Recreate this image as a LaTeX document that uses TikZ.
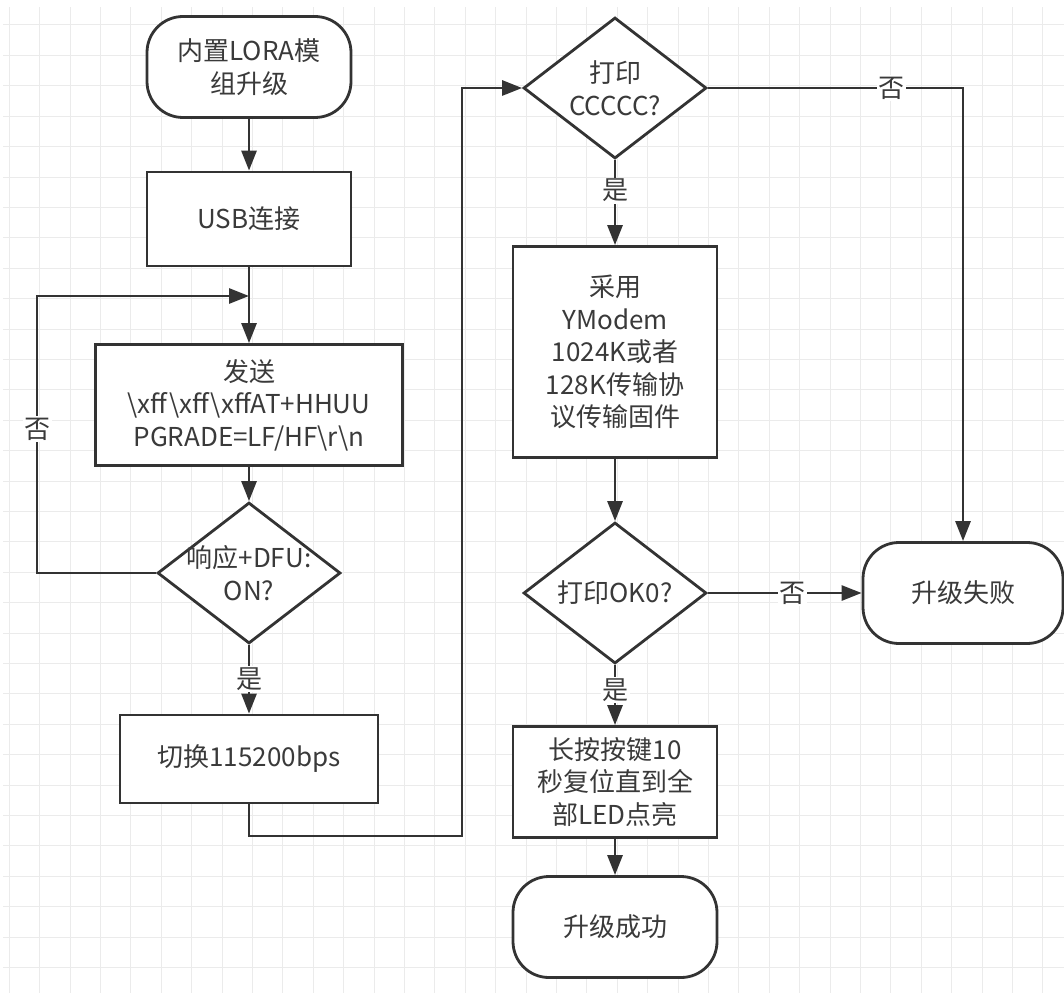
\documentclass[tikz,border=0pt]{standalone}
\usepackage{fontspec}
\setmainfont{Noto Sans CJK SC}
\usetikzlibrary{shapes.geometric,arrows.meta}
\definecolor{linegray}{HTML}{333333}
\definecolor{txtgray}{HTML}{3A3A3A}
\definecolor{gridgray}{HTML}{EBEBEB}
\tikzset{
	every node/.style={font=\fontsize{26}{32.5}\selectfont, text=txtgray},
	terminal/.style={draw=linegray, line width=2.8pt, fill=white, rounded corners=36pt,
		minimum width=204pt, minimum height=101pt, align=center},
	process/.style={draw=linegray, line width=2.8pt, fill=white, inner sep=0pt, align=center},
	decision/.style={draw=linegray, line width=2.8pt, fill=white, diamond, inner sep=0pt,
		minimum width=183pt, minimum height=141pt},
	flow/.style={draw=linegray, line width=2.8pt, -{Triangle[length=20pt,width=15pt]}},
	yesno/.style={fill=white, inner sep=1.5pt},
	gridln/.style={draw=gridgray, line width=1pt}
}
\begin{document}
\begin{tikzpicture}[x=1pt, y=-1pt]
	\useasboundingbox (0,0) rectangle (1064,995);
	% background grid
	\foreach \i in {0,...,34}
		\draw[gridln] ({9.3+30.4*\i},7) -- ({9.3+30.4*\i},993);
	\foreach \j in {0,...,31}
		\draw[gridln] (3,{25+30.4*\j}) -- (1064,{25+30.4*\j});

	% left column
	\node[terminal] (start) at (249,67) {内置LORA模\\组升级};
	\node[process, minimum width=204pt, minimum height=94pt] (usb) at (249,219) {USB连接};
	\node[process, minimum width=307pt, minimum height=121pt] (send) at (249,405)
		{发送\\\textbackslash xff\textbackslash xff\textbackslash xffAT+HHUU\\PGRADE=LF/HF\textbackslash r\textbackslash n};
	\node[decision] (chk) at (249,573) {};
	\node[align=center] (chktxt) at (chk.center) {响应+DFU:\\ON?};
	\node[process, minimum width=258pt, minimum height=88pt] (baud) at (249,759) {切换115200bps};

	% right column
	\node[decision] (cc) at (615,88) {};
	\node[align=center] (cctxt) at (cc.center) {打印\\CCCCC?};
	\node[process, minimum width=204pt, minimum height=211pt] (ymodem) at (615,352)
		{采用\\YModem\\1024K或者\\128K传输协\\议传输固件};
	\node[decision] (ok) at (615,593) {};
	\node (oktxt) at (ok.center) {打印OK0?};
	\node[process, minimum width=204pt, minimum height=111pt] (reset) at (615,782)
		{长按按键10\\秒复位直到全\\部LED点亮};
	\node[terminal] (done) at (615,927) {升级成功};
	\node[terminal, minimum width=200pt] (fail) at (963,593) {升级失败};

	\coordinate (jn) at (249,296);
	\coordinate (loopL) at (37,296);
	\coordinate (bend) at (462,836);

	% connectors
	\draw[flow] (start) -- (usb);
	\draw[flow] (usb) -- (send);
	\draw[flow] (chk.west) -| node[yesno, pos=0.76] {否} (loopL) -- (jn);
	\draw[flow] (send) -- (chk.north);
	\draw[flow] (chk.south) -- node[yesno] {是} (baud);
	\draw[flow] (baud.south) |- (bend) |- (cc.west);
	\draw[flow] (cc.east) -| node[yesno, pos=0.36] {否} (fail.north);
	\draw[flow] (cc.south) -- node[yesno, pos=0.36] {是} (ymodem);
	\draw[flow] (ymodem) -- (ok.north);
	\draw[flow] (ok.east) -- node[yesno, pos=0.55] {否} (fail.west);
	\draw[flow] (ok.south) -- node[yesno, pos=0.42] {是} (reset);
	\draw[flow] (reset) -- (done);
\end{tikzpicture}
\end{document}
